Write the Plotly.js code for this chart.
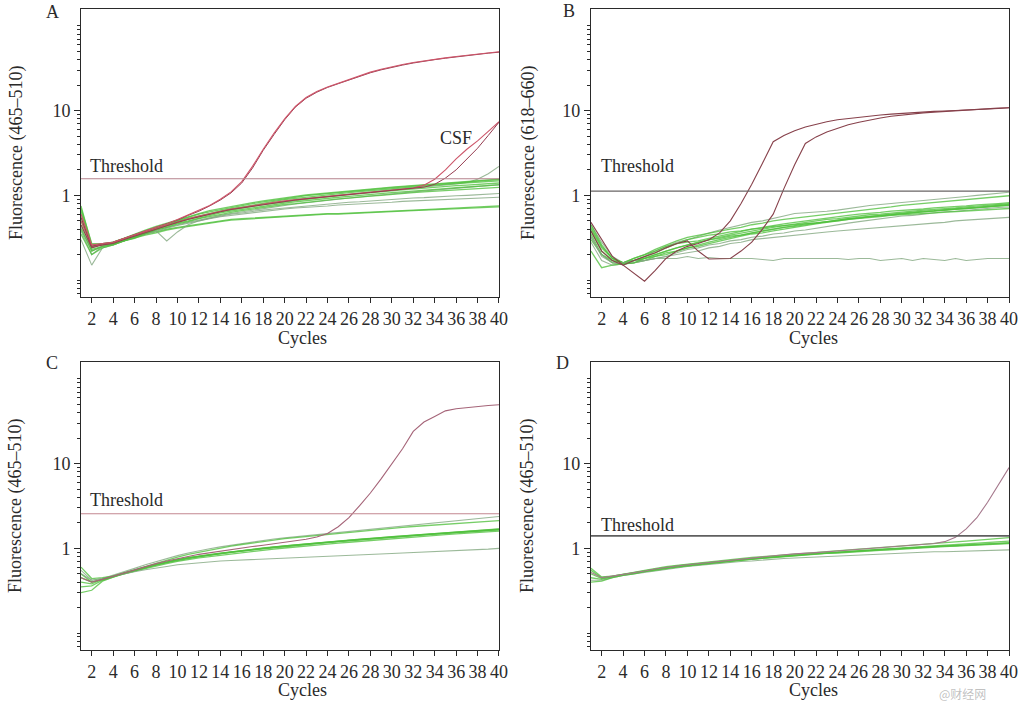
<!DOCTYPE html>
<html><head><meta charset="utf-8">
<script src="https://cdn.plot.ly/plotly-3.0.1.min.js"></script>
<style>html,body{margin:0;padding:0;background:#fff}#chart{width:1024px;height:702px}</style>
</head><body><div id="chart"></div>
<script>
// ---------- shared categories / ticks ----------
const cycles = [1,2,3,4,5,6,7,8,9,10,11,12,13,14,15,16,17,18,19,20,21,22,23,24,25,26,27,28,29,30,31,32,33,34,35,36,37,38,39,40];
const xTickVals = [2,4,6,8,10,12,14,16,18,20,22,24,26,28,30,32,34,36,38,40];
const yTickVals = [1,10];
const yTickText = ['1','10'];
const yMinorVals = [0.07,0.08,0.09,0.1,0.2,0.3,0.4,0.5,0.6,0.7,0.8,0.9,2,3,4,5,6,7,8,9,20,30,40,50,60,70,80,90,100];
const panelLetters = ['A','B','C','D'];
const yTitles = ['Fluorescence (465\u2013510)','Fluorescence (618\u2013660)','Fluorescence (465\u2013510)','Fluorescence (465\u2013510)'];
const thresholds = [1.57, 1.12, 2.56, 1.40];

// ---------- Panel A ----------
const A_green1 = [0.75,0.26,0.26,0.28,0.31,0.34,0.38,0.42,0.46,0.5,0.55,0.6,0.64,0.68,0.72,0.76,0.8,0.84,0.88,0.92,0.95,0.99,1.02,1.05,1.08,1.11,1.14,1.17,1.2,1.23,1.26,1.29,1.32,1.35,1.38,1.41,1.44,1.47,1.5,1.53];
const A_green2 = [0.55,0.24,0.27,0.27,0.3,0.33,0.37,0.41,0.44,0.48,0.52,0.56,0.6,0.64,0.67,0.71,0.74,0.78,0.81,0.84,0.87,0.9,0.93,0.96,0.99,1.02,1.05,1.08,1.1,1.13,1.16,1.19,1.21,1.24,1.27,1.3,1.32,1.35,1.38,1.4];
const A_green3 = [0.4,0.22,0.25,0.26,0.29,0.33,0.36,0.4,0.43,0.47,0.5,0.54,0.58,0.62,0.65,0.68,0.72,0.75,0.78,0.81,0.84,0.87,0.9,0.92,0.95,0.97,1.0,1.02,1.05,1.08,1.1,1.13,1.15,1.18,1.2,1.23,1.25,1.28,1.3,1.33];
const A_green4 = [0.65,0.25,0.26,0.27,0.3,0.32,0.36,0.4,0.45,0.49,0.53,0.57,0.61,0.65,0.69,0.73,0.77,0.81,0.85,0.89,0.92,0.96,0.99,1.02,1.05,1.08,1.11,1.14,1.17,1.2,1.23,1.26,1.29,1.32,1.35,1.38,1.41,1.44,1.46,1.48];
const A_green5 = [0.35,0.2,0.24,0.26,0.29,0.31,0.35,0.39,0.42,0.46,0.49,0.53,0.56,0.6,0.63,0.66,0.69,0.72,0.75,0.78,0.8,0.83,0.86,0.88,0.91,0.93,0.96,0.98,1.0,1.03,1.05,1.08,1.1,1.12,1.14,1.16,1.18,1.2,1.22,1.24];
const A_green6 = [0.7,0.27,0.27,0.28,0.31,0.35,0.39,0.43,0.47,0.52,0.56,0.61,0.66,0.7,0.74,0.78,0.82,0.86,0.9,0.94,0.97,1.01,1.04,1.07,1.1,1.13,1.16,1.19,1.22,1.25,1.28,1.31,1.34,1.37,1.4,1.43,1.46,1.49,1.52,1.55];
const A_green7 = [0.5,0.25,0.26,0.27,0.29,0.32,0.35,0.37,0.4,0.42,0.44,0.46,0.48,0.5,0.52,0.53,0.54,0.55,0.56,0.57,0.58,0.59,0.6,0.61,0.61,0.62,0.63,0.64,0.64,0.65,0.66,0.67,0.68,0.69,0.7,0.71,0.72,0.73,0.74,0.75];
const A_green8 = [0.45,0.23,0.25,0.27,0.29,0.31,0.34,0.36,0.39,0.41,0.43,0.45,0.47,0.49,0.51,0.52,0.53,0.54,0.55,0.56,0.57,0.58,0.59,0.6,0.6,0.61,0.62,0.63,0.63,0.64,0.65,0.66,0.67,0.68,0.69,0.69,0.7,0.71,0.72,0.73];
const A_gray1 = [0.3,0.15,0.24,0.26,0.29,0.32,0.36,0.38,0.29,0.37,0.45,0.5,0.54,0.58,0.61,0.64,0.67,0.7,0.73,0.76,0.79,0.82,0.85,0.88,0.9,0.93,0.96,0.99,1.01,1.04,1.07,1.1,1.13,1.16,1.19,1.22,1.25,1.28,1.31,1.34];
const A_gray2 = [0.38,0.2,0.25,0.27,0.29,0.32,0.35,0.38,0.41,0.44,0.47,0.5,0.53,0.56,0.58,0.61,0.63,0.65,0.67,0.69,0.71,0.72,0.74,0.75,0.77,0.78,0.79,0.81,0.82,0.83,0.85,0.86,0.87,0.88,0.89,0.9,0.91,0.92,0.94,0.95];
const A_gray3 = [0.42,0.22,0.25,0.27,0.3,0.33,0.36,0.39,0.42,0.45,0.48,0.51,0.54,0.57,0.6,0.62,0.65,0.67,0.69,0.71,0.73,0.75,0.77,0.79,0.81,0.83,0.84,0.86,0.88,0.89,0.91,0.93,0.94,0.96,0.97,0.99,1.0,1.02,1.03,1.05];
const A_gray4 = [0.6,0.25,0.26,0.27,0.3,0.33,0.37,0.41,0.45,0.49,0.53,0.57,0.61,0.65,0.69,0.72,0.76,0.79,0.83,0.86,0.89,0.92,0.95,0.98,1.01,1.04,1.07,1.1,1.13,1.16,1.19,1.22,1.25,1.28,1.32,1.36,1.42,1.55,1.8,2.2];
const A_pos1 = [0.6,0.26,0.27,0.28,0.31,0.34,0.38,0.42,0.46,0.52,0.59,0.66,0.76,0.9,1.1,1.45,2.2,3.5,5.4,8.0,11.2,14.3,16.8,19,21,23.3,26,28.5,30.8,33,35,37,38.8,40.5,42,43.5,45,46.5,48,49.5];
const A_pos2 = [0.55,0.25,0.27,0.28,0.31,0.34,0.38,0.42,0.46,0.51,0.58,0.65,0.75,0.88,1.07,1.4,2.1,3.4,5.2,7.8,11,14,16.5,18.8,20.8,23,25.6,28,30.3,32.5,34.5,36.5,38.4,40,41.6,43.2,44.7,46.2,47.7,49];
const A_csf1 = [0.5,0.25,0.26,0.28,0.31,0.34,0.37,0.41,0.45,0.49,0.53,0.57,0.61,0.65,0.69,0.72,0.76,0.8,0.83,0.86,0.89,0.92,0.95,0.98,1.0,1.03,1.06,1.09,1.12,1.15,1.18,1.22,1.32,1.55,2.0,2.7,3.5,4.4,5.7,7.4];
const A_csf2 = [0.45,0.24,0.26,0.27,0.3,0.33,0.36,0.4,0.44,0.48,0.52,0.56,0.6,0.64,0.68,0.71,0.75,0.78,0.82,0.85,0.88,0.91,0.94,0.97,0.99,1.02,1.05,1.08,1.11,1.14,1.17,1.2,1.25,1.35,1.6,2.0,2.7,3.6,5.1,7.3];

// ---------- Panel B ----------
const B_green1 = [0.45,0.28,0.19,0.16,0.17,0.19,0.22,0.25,0.28,0.3,0.33,0.36,0.39,0.42,0.45,0.48,0.5,0.53,0.57,0.61,0.62,0.63,0.65,0.67,0.7,0.73,0.76,0.78,0.8,0.83,0.85,0.88,0.9,0.92,0.95,0.97,1.0,1.03,1.06,1.09];
const B_green2 = [0.38,0.22,0.17,0.16,0.18,0.2,0.23,0.26,0.29,0.32,0.34,0.36,0.38,0.4,0.42,0.45,0.47,0.5,0.52,0.54,0.56,0.58,0.6,0.62,0.64,0.66,0.68,0.7,0.73,0.76,0.78,0.8,0.82,0.84,0.86,0.89,0.91,0.94,0.96,0.99];
const B_green3 = [0.42,0.25,0.18,0.16,0.17,0.18,0.2,0.22,0.24,0.26,0.28,0.3,0.32,0.34,0.36,0.38,0.4,0.42,0.44,0.46,0.48,0.5,0.52,0.53,0.55,0.57,0.59,0.6,0.62,0.64,0.65,0.67,0.68,0.7,0.71,0.73,0.74,0.76,0.78,0.8];
const B_green4 = [0.35,0.2,0.16,0.155,0.16,0.17,0.19,0.2,0.22,0.24,0.26,0.28,0.3,0.32,0.34,0.36,0.38,0.4,0.42,0.44,0.46,0.47,0.49,0.51,0.53,0.54,0.56,0.58,0.59,0.61,0.62,0.64,0.65,0.67,0.68,0.7,0.71,0.73,0.74,0.76];
const B_green5 = [0.3,0.2,0.17,0.16,0.17,0.18,0.19,0.21,0.22,0.24,0.25,0.27,0.29,0.31,0.33,0.35,0.36,0.38,0.4,0.42,0.44,0.46,0.48,0.5,0.52,0.54,0.56,0.57,0.59,0.61,0.62,0.64,0.66,0.67,0.69,0.7,0.72,0.74,0.76,0.78];
const B_green6 = [0.28,0.17,0.15,0.155,0.16,0.17,0.18,0.19,0.21,0.23,0.24,0.26,0.27,0.29,0.3,0.32,0.33,0.35,0.36,0.38,0.39,0.41,0.43,0.45,0.47,0.49,0.51,0.53,0.55,0.57,0.58,0.6,0.62,0.64,0.65,0.67,0.69,0.7,0.72,0.73];
const B_green7 = [0.4,0.24,0.18,0.16,0.17,0.19,0.21,0.24,0.27,0.28,0.29,0.31,0.33,0.35,0.38,0.4,0.41,0.43,0.44,0.45,0.46,0.48,0.49,0.5,0.52,0.53,0.55,0.56,0.58,0.59,0.6,0.62,0.63,0.64,0.65,0.66,0.67,0.68,0.69,0.7];
const B_green8 = [0.33,0.19,0.16,0.155,0.16,0.17,0.18,0.19,0.2,0.21,0.22,0.24,0.25,0.27,0.28,0.3,0.31,0.32,0.33,0.34,0.35,0.36,0.37,0.38,0.39,0.4,0.41,0.42,0.43,0.44,0.45,0.46,0.47,0.48,0.5,0.51,0.52,0.53,0.54,0.55];
const B_green9 = [0.45,0.26,0.18,0.16,0.18,0.2,0.22,0.25,0.27,0.3,0.32,0.34,0.35,0.37,0.38,0.4,0.42,0.44,0.46,0.48,0.5,0.52,0.54,0.56,0.58,0.6,0.61,0.63,0.65,0.66,0.68,0.69,0.71,0.72,0.74,0.75,0.77,0.78,0.8,0.82];
const B_green10 = [0.32,0.2,0.16,0.16,0.17,0.17,0.18,0.18,0.18,0.19,0.18,0.185,0.18,0.18,0.18,0.18,0.175,0.17,0.18,0.18,0.18,0.18,0.18,0.18,0.175,0.18,0.18,0.17,0.175,0.18,0.17,0.18,0.175,0.17,0.18,0.17,0.175,0.18,0.18,0.18];
const B_green11 = [0.22,0.14,0.15,0.155,0.16,0.18,0.2,0.22,0.24,0.26,0.28,0.3,0.31,0.33,0.34,0.36,0.38,0.4,0.42,0.43,0.45,0.47,0.49,0.51,0.53,0.55,0.56,0.58,0.6,0.62,0.63,0.65,0.66,0.68,0.69,0.71,0.72,0.74,0.76,0.77];
const B_pos1 = [0.48,0.3,0.19,0.15,0.12,0.097,0.13,0.18,0.22,0.25,0.27,0.3,0.36,0.5,0.8,1.35,2.4,4.3,5.1,5.8,6.4,6.9,7.4,7.8,8.1,8.4,8.7,8.9,9.1,9.3,9.4,9.6,9.8,9.9,10.0,10.2,10.3,10.5,10.6,10.8];
const B_pos2 = [0.38,0.22,0.17,0.15,0.17,0.19,0.21,0.24,0.27,0.29,0.22,0.177,0.177,0.18,0.22,0.28,0.4,0.6,1.2,2.3,4.1,4.9,5.6,6.2,6.8,7.3,7.8,8.2,8.6,8.9,9.2,9.4,9.6,9.8,10.0,10.2,10.4,10.5,10.7,10.8];

// ---------- Panel C ----------
const C_green1 = [0.55,0.42,0.44,0.48,0.53,0.58,0.64,0.7,0.76,0.82,0.88,0.94,0.99,1.04,1.09,1.14,1.19,1.24,1.29,1.33,1.37,1.41,1.45,1.49,1.53,1.57,1.62,1.67,1.72,1.77,1.82,1.87,1.93,1.99,2.05,2.11,2.17,2.24,2.3,2.38];
const C_green2 = [0.5,0.4,0.43,0.47,0.51,0.56,0.61,0.67,0.73,0.79,0.85,0.9,0.96,1.01,1.06,1.11,1.16,1.21,1.26,1.3,1.34,1.38,1.42,1.46,1.5,1.54,1.58,1.63,1.68,1.73,1.77,1.81,1.85,1.89,1.93,1.97,2.01,2.05,2.09,2.13];
const C_green3 = [0.45,0.4,0.43,0.46,0.5,0.54,0.59,0.64,0.68,0.72,0.76,0.8,0.83,0.87,0.9,0.93,0.96,0.99,1.02,1.05,1.08,1.11,1.14,1.17,1.2,1.23,1.26,1.29,1.32,1.35,1.38,1.41,1.44,1.47,1.5,1.53,1.56,1.59,1.62,1.65];
const C_green4 = [0.6,0.44,0.45,0.47,0.51,0.55,0.6,0.65,0.7,0.74,0.78,0.81,0.85,0.88,0.91,0.94,0.98,1.01,1.04,1.07,1.1,1.13,1.16,1.19,1.22,1.25,1.28,1.31,1.34,1.37,1.4,1.43,1.46,1.49,1.52,1.55,1.58,1.62,1.66,1.7];
const C_green5 = [0.35,0.36,0.42,0.46,0.5,0.54,0.58,0.62,0.66,0.7,0.74,0.77,0.8,0.83,0.86,0.89,0.92,0.95,0.98,1.01,1.04,1.07,1.1,1.12,1.15,1.18,1.21,1.24,1.27,1.3,1.33,1.36,1.39,1.42,1.45,1.48,1.51,1.54,1.57,1.6];
const C_green6 = [0.3,0.32,0.41,0.46,0.51,0.55,0.6,0.64,0.69,0.73,0.77,0.8,0.84,0.87,0.9,0.93,0.96,1.0,1.03,1.06,1.09,1.12,1.15,1.18,1.21,1.24,1.27,1.3,1.33,1.36,1.39,1.42,1.45,1.48,1.51,1.54,1.57,1.6,1.63,1.66];
const C_green7 = [0.5,0.42,0.44,0.47,0.5,0.53,0.56,0.59,0.61,0.64,0.66,0.68,0.69,0.71,0.72,0.73,0.74,0.75,0.76,0.77,0.78,0.79,0.8,0.81,0.82,0.83,0.84,0.85,0.86,0.87,0.88,0.89,0.9,0.91,0.93,0.94,0.95,0.96,0.98,1.0];
const C_green8 = [0.4,0.38,0.43,0.47,0.51,0.55,0.6,0.65,0.69,0.73,0.77,0.81,0.84,0.88,0.91,0.95,0.98,1.01,1.04,1.07,1.1,1.13,1.16,1.19,1.22,1.25,1.28,1.31,1.34,1.37,1.4,1.43,1.46,1.49,1.52,1.55,1.58,1.61,1.64,1.68];
const C_pos1 = [0.45,0.4,0.43,0.47,0.51,0.56,0.61,0.66,0.71,0.76,0.8,0.85,0.89,0.93,0.97,1.01,1.05,1.09,1.13,1.17,1.22,1.28,1.36,1.5,1.8,2.3,3.2,4.5,6.6,10,15,24,31,36,42,44.5,46,47.5,48.5,49.5];

// ---------- Panel D ----------
const D_green1 = [0.55,0.45,0.47,0.49,0.52,0.54,0.57,0.6,0.62,0.64,0.66,0.68,0.7,0.72,0.74,0.76,0.78,0.8,0.82,0.84,0.86,0.87,0.89,0.9,0.92,0.94,0.95,0.97,0.99,1.0,1.02,1.03,1.05,1.07,1.08,1.1,1.12,1.13,1.15,1.17];
const D_green2 = [0.5,0.44,0.46,0.49,0.51,0.54,0.56,0.59,0.61,0.63,0.65,0.68,0.69,0.71,0.73,0.75,0.77,0.79,0.81,0.83,0.85,0.86,0.88,0.9,0.91,0.93,0.95,0.97,0.99,1.01,1.03,1.05,1.07,1.09,1.11,1.13,1.15,1.17,1.2,1.22];
const D_green3 = [0.45,0.43,0.46,0.48,0.5,0.53,0.56,0.58,0.6,0.62,0.64,0.67,0.69,0.71,0.73,0.75,0.77,0.79,0.8,0.82,0.84,0.86,0.87,0.89,0.91,0.92,0.94,0.96,0.97,0.99,1.01,1.02,1.04,1.06,1.07,1.09,1.1,1.12,1.14,1.15];
const D_green4 = [0.42,0.42,0.45,0.48,0.5,0.52,0.55,0.57,0.59,0.61,0.63,0.65,0.66,0.68,0.7,0.71,0.73,0.74,0.76,0.77,0.78,0.8,0.81,0.82,0.83,0.84,0.85,0.86,0.87,0.88,0.89,0.9,0.91,0.91,0.92,0.93,0.94,0.95,0.95,0.96];
const D_green5 = [0.58,0.46,0.47,0.49,0.52,0.55,0.58,0.61,0.63,0.65,0.67,0.7,0.72,0.74,0.76,0.78,0.8,0.82,0.84,0.86,0.88,0.9,0.92,0.94,0.96,0.98,1.0,1.02,1.04,1.06,1.08,1.1,1.13,1.16,1.19,1.22,1.25,1.28,1.31,1.34];
const D_green6 = [0.4,0.41,0.45,0.48,0.5,0.53,0.55,0.58,0.6,0.62,0.64,0.66,0.68,0.7,0.72,0.74,0.76,0.78,0.8,0.82,0.84,0.85,0.87,0.88,0.9,0.91,0.93,0.95,0.96,0.98,1.0,1.01,1.03,1.05,1.06,1.08,1.1,1.11,1.13,1.14];
const D_pos1 = [0.52,0.45,0.47,0.49,0.52,0.54,0.57,0.6,0.62,0.64,0.66,0.69,0.71,0.73,0.75,0.77,0.79,0.82,0.84,0.86,0.87,0.89,0.91,0.93,0.95,0.97,0.99,1.01,1.03,1.05,1.07,1.1,1.14,1.2,1.35,1.7,2.3,3.5,5.6,9.0];

// ---------- styles ----------
const COL = {
  green: 'rgba(80,192,60,0.78)',
  gray:  'rgba(130,168,128,0.8)',
  redA:  'rgb(205,85,105)',
  redA2: 'rgb(150,60,80)',
  redB:  'rgb(135,65,75)',
  redC:  'rgb(165,100,120)',
  redD:  'rgb(165,120,140)'
};
const WID = {green: 1.3, gray: 1.1, redA: 1.1, redA2: 1, redB: 1.1, redC: 1.1, redD: 1.1};
const thrStyle = [
  {color:'rgb(180,130,140)', width:1.2},
  {color:'rgb(105,100,100)', width:1.3},
  {color:'rgb(195,135,145)', width:1.2},
  {color:'rgb(95,95,95)', width:1.8}
];

const panels = [
  {xa:'x',  ya:'y',  series:[[A_green7,'green'],[A_green8,'green'],[A_gray2,'gray'],[A_gray3,'gray'],[A_gray1,'gray'],[A_gray4,'gray'],
                              [A_green1,'green'],[A_green2,'green'],[A_green3,'green'],[A_green4,'green'],[A_green5,'green'],[A_green6,'green'],
                              [A_csf1,'redA'],[A_csf2,'redA2'],[A_pos2,'redA2'],[A_pos1,'redA']]},
  {xa:'x2', ya:'y2', series:[[B_green1,'gray'],[B_green2,'green'],[B_green3,'green'],[B_green4,'green'],[B_green5,'green'],[B_green6,'gray'],
                              [B_green7,'green'],[B_green8,'gray'],[B_green9,'green'],[B_green10,'gray'],[B_green11,'green'],
                              [B_pos1,'redB'],[B_pos2,'redB']]},
  {xa:'x3', ya:'y3', series:[[C_green1,'gray'],[C_green2,'green'],[C_green3,'green'],[C_green4,'green'],[C_green5,'green'],[C_green6,'green'],
                              [C_green7,'gray'],[C_green8,'green'],[C_pos1,'redC']]},
  {xa:'x4', ya:'y4', series:[[D_green1,'green'],[D_green2,'green'],[D_green3,'green'],[D_green4,'gray'],[D_green5,'green'],[D_green6,'green'],
                              [D_pos1,'redD']]}
];

const traces = [];
panels.forEach((p, i) => {
  p.series.forEach(([vals, c]) => {
    traces.push({x: cycles, y: vals, xaxis: p.xa, yaxis: p.ya, mode: 'lines',
      line: {color: COL[c], width: WID[c]}, hoverinfo: 'skip', showlegend: false});
  });
  traces.push({x: [cycles[0], cycles[cycles.length-1]], y: [thresholds[i], thresholds[i]],
    xaxis: p.xa, yaxis: p.ya, mode: 'lines', line: thrStyle[i], hoverinfo: 'skip', showlegend: false});
});

const FONT = 'Liberation Serif, Times New Roman, serif';
const INK = '#2a2a2a';
function xAxis(domain, anchor) {
  return {domain, anchor, range: [1, 40], tickmode: 'array', tickvals: xTickVals, ticks: 'outside',
    ticklen: 5, tickcolor: INK, tickwidth: 1, tickangle: 0, showline: true, mirror: true, linecolor: INK, linewidth: 1,
    showgrid: false, zeroline: false, tickfont: {family: FONT, size: 18, color: INK}, fixedrange: true};
}
function yAxis(domain, anchor) {
  return {domain, anchor, type: 'log', range: [-1.2, 2.2], tickmode: 'array', tickvals: yTickVals, ticktext: yTickText,
    ticks: 'outside', ticklen: 6, tickcolor: INK, tickwidth: 1, showline: true, mirror: true, linecolor: INK, linewidth: 1,
    showgrid: false, zeroline: false, tickfont: {family: FONT, size: 18, color: INK}, fixedrange: true,
    minor: {tickmode: 'array', tickvals: yMinorVals, ticks: 'outside', ticklen: 3, tickcolor: INK, tickwidth: 1, showgrid: false}};
}

const dxL = [0.0791, 0.4873], dxR = [0.5771, 0.9854];
const dyT = [0.5769, 0.9872], dyB = [0.0741, 0.4843];

const ann = [];
const txt = (text, x, y, extra) => Object.assign({text, x, y, xref: 'paper', yref: 'paper', showarrow: false,
  font: {family: FONT, size: 18, color: INK}}, extra || {});
// panel letters
[[52, 12], [569, 11], [52, 363], [562, 363]].forEach(([px, py], i) =>
  ann.push(txt(panelLetters[i], px / 1024, 1 - py / 702, {xanchor: 'center', yanchor: 'middle'})));
// y titles
[[16, 153], [528, 153], [16, 506], [528, 506]].forEach(([px, py], i) =>
  ann.push(txt(yTitles[i], px / 1024, 1 - py / 702, {textangle: -90, xanchor: 'center', yanchor: 'middle'})));
// x titles
[[302, 338], [813, 338], [302, 690], [813, 690]].forEach(([px, py]) =>
  ann.push(txt('Cycles', px / 1024, 1 - py / 702, {xanchor: 'center', yanchor: 'middle'})));
// threshold labels
[[88, 166], [599, 166], [88, 500], [599, 525]].forEach(([px, py]) =>
  ann.push(txt('Threshold', px / 1024, 1 - py / 702, {xanchor: 'left', yanchor: 'middle'})));
// CSF label (panel A, data coords)
ann.push({text: 'CSF', x: 36, y: Math.log10(4.8), xref: 'x', yref: 'y', showarrow: false,
  xanchor: 'center', yanchor: 'middle', font: {family: FONT, size: 18, color: INK}});
// watermark
ann.push(txt('@财经网', 962 / 1024, 1 - 693 / 702, {xanchor: 'center', yanchor: 'middle',
  font: {family: 'Noto Sans CJK SC', size: 12, color: 'rgba(140,140,140,0.55)'}}));

const layout = {
  width: 1024, height: 702, margin: {l: 0, r: 0, t: 0, b: 0},
  paper_bgcolor: '#fff', plot_bgcolor: '#fff', showlegend: false, hovermode: false,
  xaxis: xAxis(dxL, 'y'), yaxis: yAxis(dyT, 'x'),
  xaxis2: xAxis(dxR, 'y2'), yaxis2: yAxis(dyT, 'x2'),
  xaxis3: xAxis(dxL, 'y3'), yaxis3: yAxis(dyB, 'x3'),
  xaxis4: xAxis(dxR, 'y4'), yaxis4: yAxis(dyB, 'x4'),
  annotations: ann
};

Plotly.newPlot('chart', traces, layout, {staticPlot: true, displayModeBar: false});
</script>
</body></html>
